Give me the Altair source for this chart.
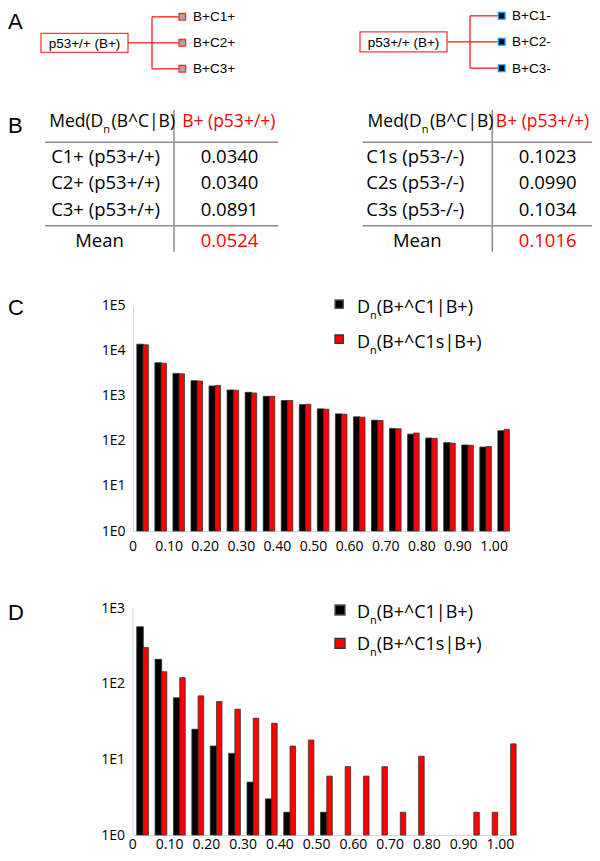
import altair as alt
import pandas as pd

FONT = "Open Sans"
FONT_A = "Liberation Sans"

# ---------------- data ----------------
parent_label = "p53+/+ (B+)"
children_left = ["B+C1+", "B+C2+", "B+C3+"]
children_right = ["B+C1-", "B+C2-", "B+C3-"]

header_left = ["Med(D", "n", "(B^C|B)"]
header_col = "B+ (p53+/+)"
rows_left = ["C1+ (p53+/+)", "C2+ (p53+/+)", "C3+ (p53+/+)"]
vals_left = ["0.0340", "0.0340", "0.0891"]
mean_left = "0.0524"
rows_right = ["C1s (p53-/-)", "C2s (p53-/-)", "C3s (p53-/-)"]
vals_right = ["0.1023", "0.0990", "0.1034"]
mean_right = "0.1016"
mean_label = "Mean"

bin_lo = [0.00, 0.05, 0.10, 0.15, 0.20, 0.25, 0.30, 0.35, 0.40, 0.45, 0.50,
          0.55, 0.60, 0.65, 0.70, 0.75, 0.80, 0.85, 0.90, 0.95, 1.00]
c_black = [13600, 5280, 3070, 2120, 1620, 1320, 1170, 955, 768, 627, 504,
           391, 336, 283, 186, 139, 114, 90, 80, 72, 165]
c_red = [13150, 5150, 3000, 2080, 1650, 1300, 1130, 955, 768, 637, 495,
         384, 330, 278, 183, 147, 112, 88, 79, 74, 177]
d_black = [565, 210, 65, 25, 15, 12, 5, 3, 2, 0, 2,
           0, 0, 0, 0, 0, 0, 0, 0, 0, 0]
d_red = [300, 144, 120, 69, 58, 46, 35, 30, 15, 18, 6,
         8, 6, 8, 2, 11, 0, 0, 2, 2, 16]
series = ["C1", "C1s"]
legend_labels = ["(B+^C1|B+)", "(B+^C1s|B+)"]
x_ticks = [0.0, 0.1, 0.2, 0.3, 0.4, 0.5, 0.6, 0.7, 0.8, 0.9, 1.0]
c_y_ticks = [1, 10, 100, 1000, 10000, 100000]
d_y_ticks = [1, 10, 100, 1000]

RED = "#ff0000"
LINE_RED = "#ff3b3b"
GRAY_LINE = "#8c8c8c"
AXIS_GRAY = "#d4d4d4"

# ---------------- layout (pixel) items ----------------
texts = []


def T(x, y, t, size, align, color="black", font=FONT):
    texts.append(dict(x=x, y=y, t=t, size=size, align=align, color=color, font=font))


# panel letters
for letter, yb in zip(["A", "B", "C", "D"], [20.5, 125, 307, 612]):
    T(0, yb, letter, 22, "left", font=FONT_A)

# panel A (left diagram rows / right diagram rows)
L_rows = [8.8, 34.8, 60.8]
R_rows = [7.8, 33.8, 60.2]
T(76.5, 39.8, parent_label, 13.5, "center", font=FONT_A)
T(395.5, 38.8, parent_label, 13.5, "center", font=FONT_A)
for t, yc in zip(children_left, L_rows):
    T(185, yc + 4.6, t, 13.5, "left", font=FONT_A)
for t, yc in zip(children_right, R_rows):
    T(504, yc + 4.6, t, 13.5, "left", font=FONT_A)

# panel B tables
HS = 17.5
RS = 18.5
for (xr, xrest, xcol) in [(95.3, 103.5, 220.8), (413.7, 421.9, 534.5)]:
    T(xr, 119, header_left[0], HS, "right")
    T(xr, 125, header_left[1], 11, "left")
    T(xrest, 119, header_left[2], HS, "left")
    T(xcol, 119, header_col, HS, "center", RED)
row_base = [155.3, 181.3, 208]
for t, v, yb in zip(rows_left, vals_left, row_base):
    T(97.6, yb, t, RS, "center")
    T(221.5, yb, v, RS, "center")
T(91.5, 238.7, mean_label, RS, "center")
T(221.5, 238.7, mean_left, RS, "center", RED)
for t, v, yb in zip(rows_right, vals_right, row_base):
    T(407.3, yb, t, RS, "center")
    T(539.7, yb, v, RS, "center")
T(409.3, 238.7, mean_label, RS, "center")
T(539.7, 238.7, mean_right, RS, "center", RED)

# legends
for bases in [[305.3, 340.3], [609.7, 642]]:
    for lab, yb in zip(legend_labels, bases):
        T(362, yb, "D", 18, "right")
        T(362, yb + 6, "n", 11, "left")
        T(368.7, yb, lab, 18, "left")

text_df = pd.DataFrame(texts)

rules = []
rules.append((120, L_rows[1], 144, L_rows[1]))
rules.append((144, L_rows[0], 144, L_rows[2]))
for yc in L_rows:
    rules.append((144, yc, 171, yc))
rules.append((439, R_rows[1], 462, R_rows[1]))
rules.append((462, R_rows[0], 462, R_rows[2]))
for yc in R_rows:
    rules.append((462, yc, 490, yc))
rule_rows = [dict(x=a, y=b, x2=c, y2=d, c=LINE_RED, w=1.5) for a, b, c, d in rules]
for seg in [(166, 102, 166, 243.7), (484.3, 102, 484.3, 243.7),
            (37, 134.3, 270.3, 134.3), (37, 217.7, 270.3, 217.7),
            (354.7, 134.3, 584, 134.3), (354.7, 217.7, 584, 217.7)]:
    rule_rows.append(dict(x=seg[0], y=seg[1], x2=seg[2], y2=seg[3], c=GRAY_LINE, w=1.5))
rule_df = pd.DataFrame(rule_rows)

rects = []
rects.append(dict(x=33, y=L_rows[1] - 9.5, x2=120, y2=L_rows[1] + 9.5, f="white", s=LINE_RED))
rects.append(dict(x=352, y=R_rows[1] - 10, x2=439, y2=R_rows[1] + 10, f="white", s=LINE_RED))
for yc in L_rows:
    rects.append(dict(x=171, y=yc - 3.3, x2=177.6, y2=yc + 3.3, f="#a8a8a8", s="#ff2a2a"))
for yc in R_rows:
    rects.append(dict(x=490.4, y=yc - 3.3, x2=497, y2=yc + 3.3, f="black", s="#1e90ff"))
# legend swatches
rects.append(dict(x=327, y=292, x2=335.3, y2=300.3, f="black", s="#555555"))
rects.append(dict(x=327, y=327, x2=335.3, y2=335.3, f=RED, s="#333333"))
rects.append(dict(x=327, y=597, x2=337, y2=607, f="black", s="#555555"))
rects.append(dict(x=327, y=630.3, x2=337, y2=640.3, f=RED, s="#333333"))
rect_df = pd.DataFrame(rects)


def px(f):
    return alt.X(f + ":Q", scale=None, axis=None)


def py(f):
    return alt.Y(f + ":Q", scale=None, axis=None)


layers = []
layers.append(
    alt.Chart(rule_df).mark_rule().encode(
        x=px("x"), y=py("y"), x2="x2:Q", y2="y2:Q",
        color=alt.Color("c:N", scale=None, legend=None),
        strokeWidth=alt.StrokeWidth("w:Q", scale=None, legend=None),
    )
)
layers.append(
    alt.Chart(rect_df).mark_rect(strokeWidth=1.3).encode(
        x=px("x"), y=py("y"), x2="x2:Q", y2="y2:Q",
        fill=alt.Fill("f:N", scale=None, legend=None),
        stroke=alt.Stroke("s:N", scale=None, legend=None),
    )
)
for font in [FONT, FONT_A]:
    for align in ["left", "center", "right"]:
        sub = text_df[(text_df["align"] == align) & (text_df["font"] == font)]
        if len(sub) == 0:
            continue
        layers.append(
            alt.Chart(sub).mark_text(align=align, baseline="alphabetic", font=font).encode(
                x=px("x"), y=py("y"), text="t:N",
                size=alt.Size("size:Q", scale=None, legend=None),
                color=alt.Color("color:N", scale=None, legend=None),
            )
        )


def bar_df(black, red):
    rows = []
    for lo, b, r in zip(bin_lo, black, red):
        rows.append(dict(lo=lo, s=series[0], v=b))
        rows.append(dict(lo=lo, s=series[1], v=r))
    return pd.DataFrame(rows)


def bar_layer(df, xdom, xrange, ydom, yrange, yticks, xoff, yoff, xpad):
    return alt.Chart(df).mark_bar(stroke="#333333", strokeWidth=0.8).transform_filter(
        "datum.v > 0"
    ).transform_calculate(
        xa="datum.lo + (datum.s == 'C1' ? 0.012 : 0.029)",
        xb="datum.lo + (datum.s == 'C1' ? 0.030 : 0.044)",
        base="1",
    ).encode(
        x=alt.X("xa:Q", scale=alt.Scale(domain=xdom, range=xrange, nice=False, zero=False),
                axis=alt.Axis(orient="bottom", offset=xoff, values=x_ticks,
                              labelExpr="datum.value == 0 ? '0' : format(datum.value, '.2f')",
                              title=None, grid=False, ticks=False, tickSize=0,
                              domainColor=AXIS_GRAY, domainWidth=1,
                              labelFont=FONT, labelFontSize=14, labelColor="black",
                              labelPadding=xpad, labelFlush=False, labelOverlap=False)),
        x2="xb:Q",
        y=alt.Y("v:Q", scale=alt.Scale(type="log", domain=ydom, range=yrange, nice=False),
                axis=alt.Axis(orient="left", offset=yoff, values=yticks,
                              labelExpr="'1E' + round(log(datum.value) / LN10)",
                              title=None, grid=False, ticks=False, tickSize=0,
                              domainColor=AXIS_GRAY, domainWidth=1,
                              labelFont=FONT, labelFontSize=14, labelColor="black",
                              labelPadding=8, labelFlush=False, labelOverlap=False)),
        y2="base:Q",
        fill=alt.Fill("s:N", scale=alt.Scale(domain=series, range=["black", RED]), legend=None),
    )


H = 845
layers.append(bar_layer(bar_df(c_black, c_red), [0, 1.047], [124.5, 502.5],
                        [1, 100000], [523, 297], c_y_ticks, -(H - 523), -125, 8))
layers.append(bar_layer(bar_df(d_black, d_red), [0, 1.05], [124.3, 510.3],
                        [1, 1000], [827, 600], d_y_ticks, -(H - 827), -124.5, 2))

chart = alt.layer(*layers).resolve_scale(
    x="independent", y="independent", fill="independent"
).resolve_axis(x="independent", y="independent").properties(
    width=584, height=H, autosize="none", padding=0, background="white"
).configure_view(stroke=None)

chart.save("out.html", embed_options={"renderer": "svg", "actions": False})
